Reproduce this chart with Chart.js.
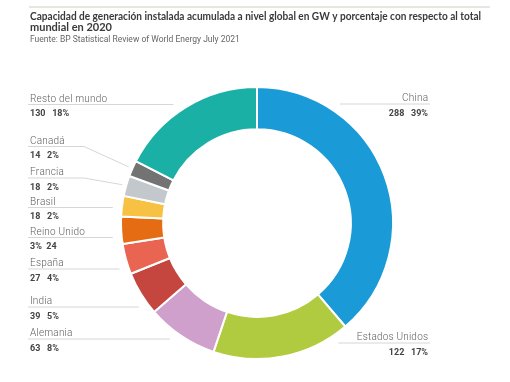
<!DOCTYPE html>
<html>
<head>
<meta charset="utf-8">
<script src="https://cdn.jsdelivr.net/npm/chart.js@4.4.1/dist/chart.umd.min.js"></script>
<style>
  html, body { margin: 0; padding: 0; background: #fff; }
  #wrap { width: 510px; height: 382px; }
</style>
</head>
<body>
<div id="wrap"><canvas id="chart" width="510" height="382"></canvas></div>
<script>
const labels = ['China', 'Estados Unidos', 'Alemania', 'India', 'España', 'Reino Unido', 'Brasil', 'Francia', 'Canadá', 'Resto del mundo'];
const values = [288, 122, 63, 39, 27, 24, 18, 18, 14, 130];
const percents = [39, 17, 8, 5, 4, 3, 2, 2, 2, 18];
const colors = ['#1a9bd7', '#b0cb3f', '#cfa0cc', '#c4463f', '#ea6452', '#e56c12', '#f7c244', '#c3c8cd', '#737373', '#1ab0a5'];

const title = ['Capacidad de generación instalada acumulada a nivel global en GW y porcentaje con respecto al total', 'mundial en 2020'];
const source = 'Fuente: BP Statistical Review of World Energy July 2021';

// where each callout sits (y of its underline), which side, and whether it bends to the slice
const calloutY = [104, 343, 339, 307, 269, 237.5, 207.5, 178, 146.5, 104.5];
const calloutSide = ['right', 'right', 'left', 'left', 'left', 'left', 'left', 'left', 'left', 'left'];
const calloutBend = [false, false, false, false, false, false, false, true, true, false];

// the source prints Reino Unido with value and percent swapped
function valueText(i) {
  if (labels[i] === 'Reino Unido') return percents[i] + '%  ' + values[i];
  return values[i] + '   ' + percents[i] + '%';
}

function spaced(ctx, text, x, y, spacing, align) {
  let w = 0;
  for (const ch of text) w += ctx.measureText(ch).width + spacing;
  w -= spacing;
  let cx = align === 'right' ? x - w : x;
  ctx.textAlign = 'left';
  for (const ch of text) {
    ctx.fillText(ch, cx, y);
    cx += ctx.measureText(ch).width + spacing;
  }
}

const callouts = {
  id: 'callouts',
  afterDraw(chart) {
    const ctx = chart.ctx;
    const meta = chart.getDatasetMeta(0);
    ctx.save();

    // header
    ctx.strokeStyle = '#e8e6e0';
    ctx.lineWidth = 2;
    ctx.beginPath();
    ctx.moveTo(29, 7);
    ctx.lineTo(490, 7);
    ctx.stroke();

    ctx.fillStyle = '#3a3a3a';
    ctx.font = 'bold 11px Lato';
    ctx.textBaseline = 'alphabetic';
    ctx.textAlign = 'left';
    ctx.fillText(title[0], 30, 20, 451);
    ctx.fillText(title[1], 30, 31);
    ctx.fillStyle = '#666';
    ctx.font = '8.5px Roboto';
    ctx.fillText(source, 30, 42);

    meta.data.forEach((arc, i) => {
      const p = arc.getProps(['x', 'y', 'outerRadius', 'startAngle', 'endAngle'], true);
      const ly = calloutY[i];
      const dy = ly - p.y;
      const r = p.outerRadius + 9;
      const reach = Math.sqrt(Math.max(r * r - dy * dy, 0));
      ctx.strokeStyle = '#d6d6d6';
      ctx.lineWidth = 1;
      ctx.beginPath();
      if (calloutSide[i] === 'right') {
        ctx.moveTo(p.x + reach, ly);
        ctx.lineTo(430, ly);
      } else if (calloutBend[i]) {
        const mid = (p.startAngle + p.endAngle) / 2;
        const rr = p.outerRadius + 4;
        ctx.moveTo(28, ly);
        ctx.lineTo(84, ly);
        ctx.lineTo(p.x + Math.cos(mid) * rr, p.y + Math.sin(mid) * rr);
      } else {
        ctx.moveTo(28, ly);
        ctx.lineTo(p.x - reach, ly);
      }
      ctx.stroke();

      ctx.fillStyle = '#5e5e5e';
      ctx.font = '300 10px Roboto';
      const right = calloutSide[i] === 'right';
      spaced(ctx, labels[i], right ? 428 : 30, ly - 3, 0.2, right ? 'right' : 'left');

      ctx.fillStyle = '#444';
      ctx.font = 'bold 9px Roboto';
      ctx.textAlign = right ? 'right' : 'left';
      ctx.fillText(valueText(i), right ? 428 : 30, ly + 11.5);
    });
    ctx.restore();
  }
};

const ctx = document.getElementById('chart').getContext('2d');
const chart = new Chart(ctx, {
  type: 'doughnut',
  data: {
    labels: labels,
    datasets: [{
      data: values,
      backgroundColor: colors,
      borderColor: '#ffffff',
      borderWidth: 2,
      hoverOffset: 0
    }]
  },
  options: {
    responsive: false,
    animation: false,
    events: [],
    cutout: '69%',
    layout: { padding: { top: 86, bottom: 22, left: 120, right: 116 } },
    plugins: {
      legend: { display: false },
      tooltip: { enabled: false }
    }
  },
  plugins: [callouts]
});
</script>
</body>
</html>
